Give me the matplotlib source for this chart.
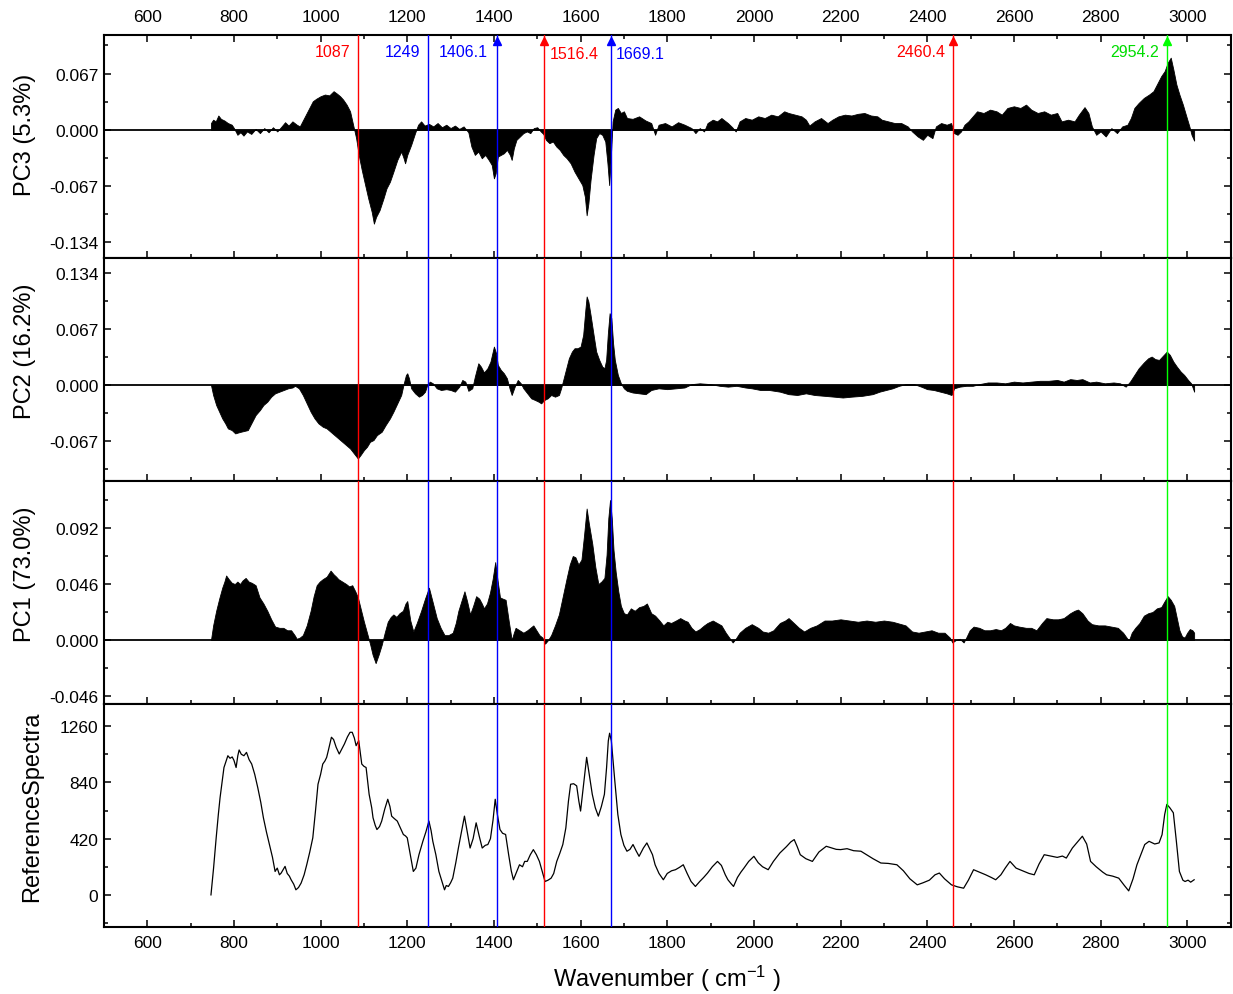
import matplotlib
matplotlib.use("Agg")
import matplotlib.pyplot as plt
from matplotlib.ticker import MultipleLocator
import matplotlib.transforms as mtransforms

plt.rcParams['font.family'] = ['Liberation Sans', 'DejaVu Sans']
plt.rcParams['mathtext.default'] = 'regular'

# ---- data ----
wn_pc3 = [747, 752, 758, 764, 770, 778, 786, 795, 800, 808, 815, 822, 830, 840, 850, 860, 870, 880, 890, 900,
          910, 918, 926, 935, 945, 952, 960, 968, 975, 982, 990, 1000, 1010, 1020, 1030, 1038, 1045, 1052, 1060,
          1068, 1075, 1082, 1088, 1095, 1102, 1110, 1118, 1123, 1128, 1136, 1145, 1152, 1160, 1168, 1177, 1186,
          1191, 1195, 1200, 1209, 1218, 1225, 1232, 1240, 1250, 1260, 1270, 1280, 1290, 1300, 1310, 1320, 1330,
          1341, 1348, 1356, 1364, 1372, 1380, 1388, 1395, 1400, 1404, 1409, 1416, 1423, 1430, 1437, 1441, 1446,
          1452, 1460, 1468, 1476, 1484, 1492, 1500, 1508, 1514, 1520, 1528, 1536, 1544, 1552, 1560, 1568, 1577,
          1586, 1595, 1604, 1610, 1614, 1618, 1623, 1630, 1636, 1643, 1650, 1657, 1662, 1666, 1670, 1674, 1680,
          1686, 1693, 1700, 1707, 1720, 1735, 1750, 1763, 1772, 1780, 1795, 1810, 1825, 1840, 1856, 1865, 1875,
          1885, 1893, 1905, 1915, 1925, 1940, 1950, 1958, 1967, 1980, 1995, 2010, 2025, 2040, 2055, 2070, 2080,
          2095, 2110, 2120, 2128, 2140, 2155, 2170, 2181, 2195, 2210, 2225, 2240, 2255, 2270, 2285, 2295, 2310,
          2325, 2340, 2355, 2365, 2378, 2390, 2400, 2412, 2420, 2432, 2445, 2455, 2462, 2470, 2478, 2486, 2495,
          2505, 2515, 2530, 2545, 2560, 2572, 2585, 2600, 2615, 2628, 2640, 2655, 2670, 2685, 2700, 2710, 2725,
          2740, 2750, 2763, 2772, 2780, 2790, 2800, 2812, 2825, 2838, 2850, 2862, 2870, 2878, 2888, 2900, 2912,
          2922, 2930, 2940, 2948, 2955, 2962, 2968, 2975, 2982, 2990, 2998, 3005, 3010, 3016]
pc3 = [0.008, 0.012, 0.010, 0.017, 0.013, 0.011, 0.008, 0.006, 0.002, -0.006, -0.003, -0.007, -0.002, -0.005,
       0.001, -0.004, 0.002, -0.003, 0.003, -0.002, 0.004, 0.009, 0.005, 0.010, 0.006, 0.004, 0.012, 0.020, 0.027,
       0.034, 0.037, 0.040, 0.042, 0.041, 0.046, 0.043, 0.040, 0.036, 0.030, 0.022, 0.006, -0.010, -0.030, -0.048,
       -0.064, -0.082, -0.098, -0.112, -0.104, -0.096, -0.082, -0.070, -0.062, -0.050, -0.036, -0.026, -0.033,
       -0.040, -0.030, -0.018, -0.004, 0.006, 0.010, 0.005, 0.007, 0.004, 0.008, 0.003, 0.006, 0.002, 0.005, 0.001,
       0.004, -0.003, -0.020, -0.030, -0.026, -0.034, -0.030, -0.036, -0.042, -0.058, -0.052, -0.032, -0.030,
       -0.028, -0.024, -0.030, -0.036, -0.022, -0.012, -0.008, -0.004, -0.002, -0.004, 0.002, 0.003, -0.002, -0.005,
       -0.012, -0.016, -0.014, -0.020, -0.024, -0.030, -0.034, -0.040, -0.050, -0.058, -0.066, -0.080, -0.102,
       -0.088, -0.060, -0.030, -0.010, -0.004, -0.006, -0.014, -0.040, -0.066, -0.030, 0.010, 0.024, 0.026, 0.020,
       0.022, 0.014, 0.013, 0.016, 0.011, 0.008, -0.006, 0.006, 0.008, 0.004, 0.009, 0.006, 0.002, -0.004, 0.002,
       -0.002, 0.008, 0.012, 0.010, 0.014, 0.008, 0.003, -0.002, 0.010, 0.014, 0.012, 0.016, 0.014, 0.018, 0.016,
       0.022, 0.020, 0.018, 0.016, 0.012, 0.005, 0.010, 0.014, 0.008, 0.012, 0.016, 0.018, 0.017, 0.019, 0.020,
       0.017, 0.016, 0.012, 0.010, 0.008, 0.008, 0.004, -0.002, -0.008, -0.012, -0.006, -0.010, 0.004, 0.008, 0.006,
       0.008, -0.004, -0.006, -0.002, 0.006, 0.010, 0.016, 0.022, 0.020, 0.024, 0.022, 0.018, 0.026, 0.028, 0.026,
       0.030, 0.024, 0.020, 0.022, 0.018, 0.020, 0.010, 0.012, 0.010, 0.018, 0.027, 0.020, 0.004, -0.006, -0.002,
       -0.008, 0.002, -0.004, 0.004, 0.006, 0.014, 0.026, 0.032, 0.038, 0.042, 0.046, 0.054, 0.064, 0.070, 0.080,
       0.086, 0.072, 0.054, 0.042, 0.030, 0.016, 0.004, -0.006, -0.013]

wn_pc2 = [747, 752, 759, 766, 773, 780, 786, 795, 803, 809, 816, 824, 832, 840, 850, 860, 868, 877, 886, 895,
          905, 915, 925, 935, 941, 950, 959, 968, 977, 986, 995, 1005, 1014, 1023, 1032, 1041, 1050, 1059, 1068,
          1077, 1086, 1092, 1100, 1107, 1114, 1122, 1130, 1141, 1150, 1160, 1168, 1177, 1186, 1192, 1197, 1200,
          1204, 1209, 1218, 1227, 1234, 1241, 1246, 1252, 1259, 1268, 1278, 1290, 1300, 1310, 1320, 1327, 1334,
          1341, 1350, 1356, 1364, 1370, 1377, 1385, 1392, 1400, 1405, 1409, 1416, 1423, 1430, 1436, 1441, 1448,
          1455, 1462, 1468, 1477, 1486, 1495, 1503, 1509, 1516, 1524, 1532, 1541, 1550, 1555, 1560, 1566, 1573,
          1580, 1586, 1593, 1600, 1606, 1611, 1614, 1618, 1623, 1630, 1636, 1643, 1650, 1655, 1659, 1663, 1667,
          1671, 1675, 1679, 1686, 1693, 1700, 1707, 1720, 1735, 1750, 1763, 1780, 1800, 1820, 1840, 1856, 1875,
          1900, 1921, 1940, 1960, 1980, 1995, 2015, 2035, 2060, 2080, 2100, 2120, 2140, 2163, 2185, 2205, 2225,
          2250, 2274, 2290, 2305, 2320, 2335, 2350, 2370, 2386, 2400, 2415, 2430, 2445, 2456, 2462, 2475, 2490,
          2505, 2520, 2540, 2560, 2580, 2600, 2620, 2640, 2660, 2680, 2700, 2715, 2730, 2745, 2758, 2775, 2790,
          2810, 2830, 2845, 2858, 2868, 2878, 2888, 2900, 2910, 2918, 2926, 2935, 2944, 2953, 2960, 2968, 2976,
          2985, 2993, 3002, 3009, 3016]
pc2 = [0.000, -0.012, -0.024, -0.032, -0.040, -0.046, -0.052, -0.054, -0.058, -0.057, -0.056, -0.055, -0.054,
       -0.046, -0.036, -0.030, -0.024, -0.020, -0.014, -0.010, -0.008, -0.006, -0.004, -0.003, -0.001, -0.004,
       -0.012, -0.022, -0.032, -0.040, -0.046, -0.050, -0.052, -0.056, -0.060, -0.064, -0.068, -0.072, -0.076,
       -0.082, -0.088, -0.084, -0.078, -0.074, -0.068, -0.066, -0.060, -0.056, -0.048, -0.040, -0.032, -0.022,
       -0.012, 0.002, 0.012, 0.014, 0.008, -0.004, -0.010, -0.014, -0.012, -0.008, 0.000, 0.004, 0.002, -0.004,
       -0.006, -0.005, -0.006, -0.008, -0.002, 0.006, 0.004, -0.007, -0.004, 0.010, 0.026, 0.022, 0.015, 0.020,
       0.028, 0.046, 0.038, 0.024, 0.018, 0.014, 0.008, -0.004, -0.012, -0.002, 0.006, 0.002, -0.004, -0.010,
       -0.016, -0.018, -0.020, -0.022, -0.018, -0.016, -0.012, -0.014, -0.012, -0.004, 0.006, 0.018, 0.032, 0.040,
       0.044, 0.044, 0.046, 0.060, 0.090, 0.106, 0.100, 0.084, 0.060, 0.040, 0.030, 0.022, 0.020, 0.030, 0.062,
       0.086, 0.080, 0.050, 0.030, 0.012, 0.002, -0.004, -0.007, -0.009, -0.010, -0.011, -0.006, -0.004, -0.005,
       -0.004, -0.003, 0.001, 0.002, 0.001, -0.001, -0.002, -0.001, -0.003, -0.004, -0.006, -0.006, -0.008, -0.011,
       -0.012, -0.010, -0.012, -0.013, -0.014, -0.015, -0.014, -0.013, -0.011, -0.008, -0.006, -0.004, -0.001,
       0.001, 0.001, -0.002, -0.005, -0.006, -0.008, -0.010, -0.012, -0.004, -0.002, -0.001, -0.001, 0.001, 0.003,
       0.003, 0.002, 0.004, 0.003, 0.004, 0.005, 0.005, 0.006, 0.004, 0.007, 0.006, 0.007, 0.003, 0.004, 0.002,
       0.003, 0.002, -0.002, 0.004, 0.012, 0.020, 0.027, 0.032, 0.034, 0.031, 0.030, 0.035, 0.040, 0.036, 0.028,
       0.022, 0.016, 0.012, 0.006, 0.002, -0.008]

wn_pc1 = [747, 752, 759, 766, 773, 778, 782, 788, 795, 802, 808, 814, 820, 827, 834, 841, 850, 859, 868, 877,
          886, 895, 905, 914, 923, 932, 940, 945, 952, 959, 968, 977, 984, 991, 998, 1005, 1014, 1023, 1030, 1036,
          1041, 1050, 1059, 1066, 1073, 1080, 1086, 1093, 1100, 1107, 1114, 1120, 1127, 1134, 1141, 1148, 1155,
          1162, 1168, 1175, 1182, 1190, 1196, 1200, 1207, 1214, 1222, 1232, 1241, 1250, 1258, 1268, 1277, 1286,
          1295, 1305, 1312, 1318, 1325, 1332, 1338, 1345, 1352, 1359, 1366, 1372, 1377, 1384, 1391, 1397, 1403,
          1408, 1414, 1420, 1427, 1434, 1441, 1446, 1450, 1459, 1468, 1477, 1484, 1491, 1498, 1505, 1512, 1518,
          1525, 1532, 1541, 1550, 1559, 1568, 1575, 1582, 1588, 1595, 1602, 1608, 1614, 1619, 1627, 1634, 1641,
          1648, 1655, 1660, 1664, 1668, 1672, 1676, 1681, 1687, 1693, 1700, 1707, 1716, 1725, 1735, 1745, 1753,
          1763, 1772, 1782, 1791, 1800, 1809, 1820, 1830, 1840, 1847, 1856, 1865, 1875, 1885, 1893, 1905, 1915,
          1925, 1935, 1945, 1951, 1958, 1967, 1980, 1995, 2010, 2020, 2033, 2045, 2060, 2072, 2080, 2092, 2104,
          2116, 2130, 2145, 2163, 2180, 2200, 2220, 2240, 2260, 2280, 2300, 2320, 2340, 2350, 2365, 2380, 2395,
          2410, 2425, 2440, 2452, 2458, 2466, 2475, 2484, 2490, 2498, 2507, 2520, 2532, 2545, 2558, 2570, 2580,
          2591, 2600, 2612, 2628, 2640, 2652, 2665, 2675, 2690, 2702, 2715, 2730, 2740, 2748, 2758, 2770, 2780,
          2795, 2810, 2825, 2840, 2852, 2862, 2866, 2872, 2880, 2890, 2900, 2910, 2920, 2930, 2940, 2948, 2955,
          2962, 2970, 2976, 2982, 2988, 2994, 3000, 3006, 3012, 3016]
pc1 = [0.000, 0.012, 0.024, 0.034, 0.043, 0.048, 0.053, 0.050, 0.047, 0.046, 0.048, 0.046, 0.049, 0.051, 0.048,
       0.047, 0.045, 0.035, 0.030, 0.024, 0.017, 0.011, 0.010, 0.010, 0.008, 0.008, 0.004, 0.001, 0.002, 0.004,
       0.012, 0.024, 0.036, 0.045, 0.048, 0.050, 0.052, 0.057, 0.054, 0.052, 0.050, 0.048, 0.046, 0.044, 0.045,
       0.040, 0.035, 0.025, 0.015, 0.006, -0.003, -0.012, -0.019, -0.012, -0.004, 0.006, 0.015, 0.019, 0.021,
       0.019, 0.022, 0.024, 0.030, 0.032, 0.016, 0.007, 0.014, 0.024, 0.034, 0.043, 0.032, 0.018, 0.010, 0.004,
       0.004, 0.006, 0.014, 0.024, 0.032, 0.040, 0.032, 0.021, 0.028, 0.036, 0.034, 0.030, 0.026, 0.030, 0.039,
       0.050, 0.064, 0.050, 0.035, 0.034, 0.033, 0.016, 0.000, 0.006, 0.010, 0.008, 0.006, 0.008, 0.010, 0.012,
       0.008, 0.004, 0.002, -0.003, 0.000, 0.004, 0.012, 0.021, 0.036, 0.051, 0.062, 0.069, 0.068, 0.062, 0.066,
       0.086, 0.108, 0.096, 0.079, 0.060, 0.046, 0.048, 0.051, 0.070, 0.100, 0.115, 0.100, 0.074, 0.056, 0.040,
       0.028, 0.022, 0.021, 0.026, 0.024, 0.027, 0.028, 0.030, 0.022, 0.020, 0.016, 0.012, 0.015, 0.014, 0.016,
       0.018, 0.016, 0.015, 0.010, 0.007, 0.009, 0.012, 0.014, 0.016, 0.014, 0.012, 0.006, 0.001, -0.002, 0.001,
       0.006, 0.010, 0.013, 0.010, 0.007, 0.006, 0.008, 0.014, 0.016, 0.018, 0.014, 0.010, 0.007, 0.010, 0.012,
       0.016, 0.016, 0.017, 0.016, 0.015, 0.016, 0.015, 0.016, 0.015, 0.013, 0.012, 0.007, 0.006, 0.007, 0.008,
       0.006, 0.006, 0.002, -0.002, 0.000, 0.001, -0.002, 0.002, 0.008, 0.011, 0.010, 0.008, 0.008, 0.009, 0.008,
       0.010, 0.014, 0.012, 0.011, 0.010, 0.010, 0.008, 0.014, 0.018, 0.017, 0.017, 0.018, 0.022, 0.024, 0.025,
       0.022, 0.016, 0.013, 0.012, 0.012, 0.011, 0.010, 0.006, 0.001, 0.000, 0.006, 0.010, 0.014, 0.020, 0.022,
       0.023, 0.026, 0.027, 0.032, 0.036, 0.033, 0.028, 0.018, 0.008, 0.003, 0.002, 0.006, 0.009, 0.008, 0.006]

wn_ref = [747, 753, 759, 764, 768, 773, 777, 782, 786, 791, 796, 800, 805, 809, 812, 817, 823, 829, 835, 841,
          848, 855, 862, 868, 875, 882, 889, 895, 900, 905, 909, 914, 918, 923, 928, 932, 938, 943, 949, 955, 962,
          968, 975, 982, 988, 994, 1000, 1005, 1010, 1014, 1018, 1025, 1030, 1036, 1043, 1049, 1055, 1062, 1068,
          1073, 1078, 1082, 1088, 1095, 1100, 1105, 1112, 1118, 1121, 1126, 1130, 1136, 1141, 1148, 1155, 1160,
          1164, 1170, 1177, 1184, 1191, 1196, 1200, 1207, 1214, 1220, 1227, 1236, 1243, 1250, 1255, 1259, 1266,
          1273, 1280, 1286, 1290, 1295, 1300, 1305, 1312, 1318, 1325, 1332, 1338, 1345, 1352, 1359, 1366, 1373,
          1380, 1386, 1392, 1398, 1403, 1408, 1414, 1420, 1427, 1434, 1440, 1445, 1452, 1459, 1466, 1471, 1477,
          1484, 1491, 1498, 1505, 1512, 1518, 1525, 1532, 1538, 1545, 1552, 1559, 1566, 1572, 1577, 1584, 1591,
          1596, 1600, 1606, 1611, 1614, 1620, 1627, 1634, 1641, 1648, 1655, 1660, 1664, 1667, 1671, 1675, 1679,
          1686, 1693, 1700, 1707, 1714, 1721, 1728, 1735, 1745, 1753, 1760, 1766, 1772, 1781, 1791, 1800, 1810,
          1819, 1828, 1837, 1846, 1855, 1865, 1875, 1884, 1893, 1904, 1916, 1925, 1934, 1940, 1947, 1953, 1962,
          1970, 1977, 1988, 2000, 2010, 2020, 2033, 2045, 2060, 2075, 2085, 2093, 2100, 2107, 2120, 2135, 2150,
          2167, 2180, 2190, 2200, 2215, 2230, 2247, 2260, 2275, 2293, 2310, 2330, 2345, 2360, 2377, 2390, 2405,
          2418, 2428, 2440, 2456, 2470, 2484, 2495, 2507, 2520, 2535, 2548, 2558, 2570, 2580, 2591, 2605, 2620,
          2635, 2647, 2658, 2670, 2685, 2700, 2712, 2721, 2735, 2748, 2758, 2768, 2777, 2790, 2805, 2814, 2828,
          2842, 2855, 2865, 2875, 2884, 2893, 2902, 2912, 2925, 2935, 2942, 2948, 2953, 2960, 2968, 2975, 2982,
          2990, 2995, 3002, 3008, 3016]
ref = [0, 200, 425, 600, 726, 850, 951, 1000, 1039, 1020, 1030, 1005, 951, 1040, 1082, 1050, 1039, 1064, 1010,
       977, 900, 801, 690, 576, 470, 376, 280, 175, 200, 150, 163, 190, 213, 160, 140, 113, 80, 38, 55, 88, 150,
       225, 320, 426, 620, 826, 900, 977, 1000, 1027, 1080, 1177, 1160, 1102, 1052, 1090, 1127, 1180, 1214, 1214,
       1170, 1114, 1152, 977, 960, 951, 751, 650, 576, 520, 488, 510, 551, 640, 714, 660, 588, 570, 551, 500, 451,
       440, 426, 300, 175, 200, 300, 400, 470, 551, 480, 400, 300, 175, 100, 38, 70, 63, 90, 125, 240, 350, 470,
       588, 480, 350, 420, 538, 440, 350, 370, 376, 420, 560, 714, 600, 488, 460, 451, 300, 180, 113, 170, 225,
       210, 250, 250, 300, 338, 300, 250, 170, 100, 110, 125, 160, 250, 310, 376, 500, 700, 826, 830, 814, 700,
       626, 800, 950, 1027, 900, 751, 650, 588, 660, 751, 950, 1150, 1207, 1150, 1000, 851, 600, 451, 370, 326,
       340, 376, 330, 288, 350, 388, 340, 300, 225, 160, 113, 160, 180, 188, 205, 225, 160, 100, 63, 100, 130,
       163, 210, 250, 220, 150, 113, 85, 63, 130, 170, 200, 250, 288, 240, 210, 188, 250, 313, 360, 395, 413,
       360, 300, 270, 250, 320, 363, 350, 340, 338, 345, 330, 326, 300, 270, 238, 235, 225, 180, 120, 75, 90,
       110, 150, 163, 120, 75, 60, 50, 110, 188, 170, 150, 130, 113, 150, 200, 250, 200, 180, 160, 150, 230, 300,
       290, 280, 290, 275, 350, 400, 438, 380, 250, 210, 170, 150, 140, 125, 70, 30, 120, 225, 300, 376, 400,
       380, 388, 450, 600, 676, 650, 613, 400, 175, 110, 100, 110, 95, 113]

# marked band positions
peaks = [1087, 1249, 1406.1, 1516.4, 1669.1, 2460.4, 2954.2]
peak_labels = ['1087', '1249', '1406.1', '1516.4', '1669.1', '2460.4', '2954.2']
peak_colors = ['#ff0000', '#0000ff', '#0000ff', '#ff0000', '#0000ff', '#ff0000', '#00ff00']
peak_arrow = [False, False, True, True, True, True, True]
peak_side = ['left', 'left', 'left', 'right', 'right', 'left', 'left']

fig = plt.figure(figsize=(12.33, 9.95), dpi=100)
axes = fig.subplots(4, 1, sharex=True, gridspec_kw=dict(hspace=0))
fig.subplots_adjust(left=0.0843, right=0.998, top=0.9638, bottom=0.0673)
ax3, ax2, ax1, axr = axes

for ax, x, y in [(ax3, wn_pc3, pc3), (ax2, wn_pc2, pc2), (ax1, wn_pc1, pc1)]:
    ax.fill_between(x, 0, y, color='black', lw=0.6)
    ax.axhline(0, color='black', lw=1.3, zorder=1)
axr.plot(wn_ref, ref, color='black', lw=0.9)

ax3.set_ylim(-0.153, 0.113)
ax3.set_yticks([0.067, 0.0, -0.067, -0.134])
ax3.set_yticklabels(['0.067', '0.000', '-0.067', '-0.134'])
ax3.yaxis.set_minor_locator(MultipleLocator(0.0335))

ax2.set_ylim(-0.115, 0.152)
ax2.set_yticks([0.134, 0.067, 0.0, -0.067])
ax2.set_yticklabels(['0.134', '0.067', '0.000', '-0.067'])
ax2.yaxis.set_minor_locator(MultipleLocator(0.0335))

ax1.set_ylim(-0.0526, 0.1306)
ax1.set_yticks([0.092, 0.046, 0.0, -0.046])
ax1.set_yticklabels(['0.092', '0.046', '0.000', '-0.046'])
ax1.yaxis.set_minor_locator(MultipleLocator(0.023))

axr.set_ylim(-240, 1425)
axr.set_yticks([1260, 840, 420, 0])
axr.yaxis.set_minor_locator(MultipleLocator(210))

axr.set_xlim(500, 3100)
axr.xaxis.set_major_locator(MultipleLocator(200))
axr.xaxis.set_minor_locator(MultipleLocator(100))

for ax in axes:
    for s in ax.spines.values():
        s.set_linewidth(1.5)
    ax.tick_params(which='both', direction='in', left=True, right=True, bottom=True, top=False,
                   labelbottom=False, width=1.1, labelsize=12.5, pad=4)
    ax.tick_params(which='major', length=5)
    ax.tick_params(which='minor', length=3)
    for x, c in zip(peaks, peak_colors):
        ax.axvline(x, color=c, lw=1.0, zorder=3)

ax3.tick_params(axis='x', which='both', top=True, labeltop=True, pad=8)
axr.tick_params(axis='x', which='both', labelbottom=True, pad=6)

ylabels = ['PC3 (5.3%)', 'PC2 (16.2%)', 'PC1 (73.0%)', 'ReferenceSpectra']
ylab_pos = [(-0.060, 0.555), (-0.060, 0.585), (-0.060, 0.585), (-0.054, 0.545)]
for ax, lab, pos in zip(axes, ylabels, ylab_pos):
    ax.set_ylabel(lab, fontsize=17)
    ax.yaxis.set_label_coords(*pos)

axr.set_xlabel('Wavenumber ( cm$^{-1}$ )', fontsize=17, labelpad=9)

# labels and arrowheads at the top of the first panel
trans = mtransforms.blended_transform_factory(ax3.transData, ax3.transAxes)
for x, lab, c, arr, side in zip(peaks, peak_labels, peak_colors, peak_arrow, peak_side):
    tcol = '#00dd00' if c == '#00ff00' else c
    if side == 'left':
        ax3.annotate(lab, (x, 0.928), xycoords=trans, xytext=(-6, 0), textcoords='offset points',
                     ha='right', va='center', color=tcol, fontsize=11.5)
    else:
        ax3.annotate(lab, (x, 0.915), xycoords=trans, xytext=(4, 0), textcoords='offset points',
                     ha='left', va='center', color=tcol, fontsize=11.5)
    if arr:
        ax3.plot([x], [0.975], marker='^', ms=6, color=c, transform=trans, clip_on=False, zorder=4)

fig.savefig('out.png', dpi=100)
